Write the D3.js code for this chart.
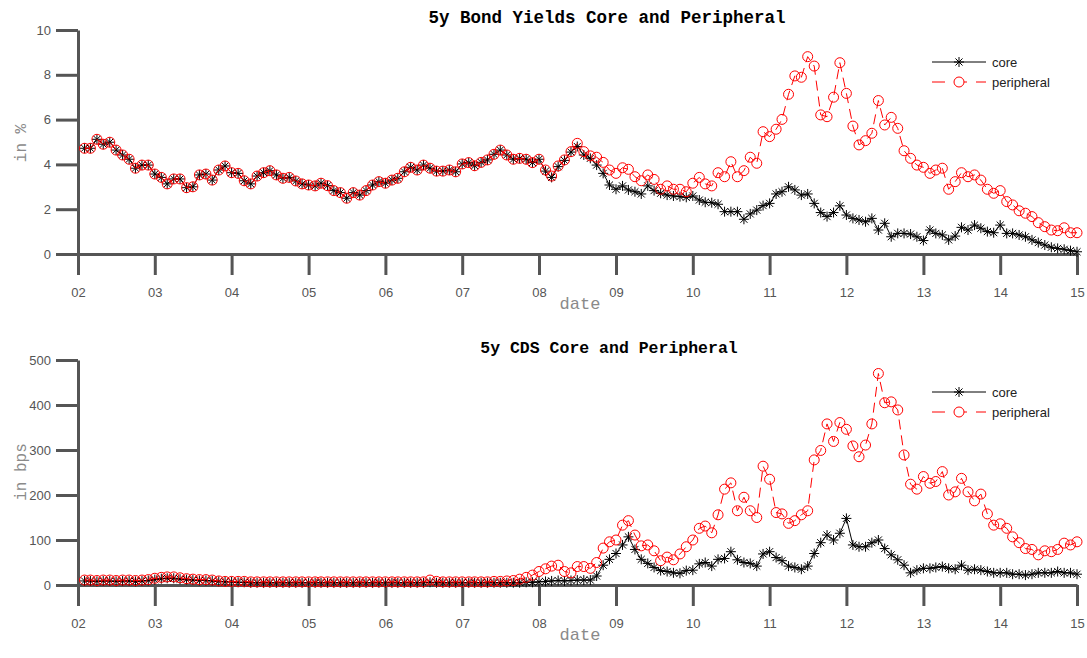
<!DOCTYPE html>
<html>
<head>
<meta charset="utf-8">
<script src="https://cdn.jsdelivr.net/npm/d3@7/dist/d3.min.js"></script>
<style>
  body { margin: 0; background: #fff; }
  svg { display: block; }
</style>
</head>
<body>
<svg id="chart" width="1087" height="658"></svg>
<script>
// Monthly observations, February 2002 through January 2015
const firstMonth = "2002-02-01";
const lastMonth = "2015-01-01";
const yearTicks = [2002, 2003, 2004, 2005, 2006, 2007, 2008, 2009, 2010, 2011, 2012, 2013, 2014, 2015];

// 5y government bond yields, in %
const bondCore = [
  4.72, 4.72, 5.12, 4.90, 4.99, 4.64, 4.42, 4.23, 3.83, 3.97,
  3.97, 3.57, 3.42, 3.13, 3.35, 3.35, 2.96, 3.00, 3.53, 3.57,
  3.30, 3.75, 3.93, 3.63, 3.60, 3.27, 3.13, 3.48, 3.63, 3.72,
  3.53, 3.38, 3.42, 3.26, 3.13, 3.08, 3.04, 3.16, 3.05, 2.83,
  2.74, 2.49, 2.74, 2.63, 2.83, 3.08, 3.23, 3.16, 3.30, 3.38,
  3.67, 3.87, 3.75, 3.97, 3.83, 3.70, 3.70, 3.75, 3.67, 4.02,
  4.08, 3.94, 4.09, 4.20, 4.45, 4.64, 4.42, 4.23, 4.27, 4.23,
  4.08, 4.23, 3.70, 3.42, 3.90, 4.18, 4.55, 4.80, 4.42, 4.27,
  3.97, 3.60, 3.08, 2.89, 3.04, 2.86, 2.78, 2.68, 3.04, 2.83,
  2.71, 2.63, 2.59, 2.56, 2.53, 2.59, 2.41, 2.31, 2.29, 2.22,
  1.89, 1.89, 1.89, 1.55, 1.79, 1.96, 2.16, 2.26, 2.68, 2.78,
  3.00, 2.86, 2.63, 2.68, 2.26, 1.85, 1.67, 1.85, 2.15, 1.74,
  1.59, 1.52, 1.44, 1.59, 1.07, 1.37, 0.77, 0.92, 0.92, 0.89,
  0.77, 0.60, 1.07, 0.92, 0.85, 0.63, 0.80, 1.19, 1.07, 1.29,
  1.15, 1.00, 0.95, 1.29, 0.92, 0.92, 0.85, 0.77, 0.63, 0.51,
  0.40, 0.30, 0.25, 0.21, 0.15, 0.10
];
const bondPeripheral = [
  4.72, 4.72, 5.12, 4.90, 4.99, 4.64, 4.42, 4.23, 3.83, 3.97,
  3.97, 3.57, 3.42, 3.13, 3.35, 3.35, 2.96, 3.00, 3.53, 3.57,
  3.30, 3.75, 3.93, 3.63, 3.60, 3.27, 3.13, 3.48, 3.63, 3.72,
  3.53, 3.38, 3.42, 3.26, 3.13, 3.08, 3.04, 3.16, 3.05, 2.83,
  2.74, 2.49, 2.74, 2.63, 2.83, 3.08, 3.23, 3.16, 3.30, 3.38,
  3.67, 3.87, 3.75, 3.97, 3.83, 3.70, 3.70, 3.75, 3.67, 4.02,
  4.08, 3.94, 4.09, 4.20, 4.45, 4.64, 4.42, 4.23, 4.27, 4.23,
  4.08, 4.23, 3.75, 3.48, 3.93, 4.20, 4.57, 4.94, 4.57, 4.38,
  4.32, 4.09, 3.75, 3.60, 3.85, 3.78, 3.45, 3.27, 3.53, 3.33,
  2.89, 3.04, 2.89, 2.89, 2.78, 3.16, 3.42, 3.13, 3.04, 3.63,
  3.45, 4.12, 3.45, 3.72, 4.32, 4.05, 5.46, 5.24, 5.57, 6.01,
  7.13, 7.95, 7.89, 8.81, 8.39, 6.21, 6.13, 7.00, 8.54, 7.17,
  5.71, 4.87, 5.06, 5.39, 6.85, 5.76, 6.10, 5.61, 4.61, 4.27,
  3.97, 3.87, 3.60, 3.75, 3.83, 2.89, 3.23, 3.63, 3.45, 3.53,
  3.30, 2.89, 2.71, 2.83, 2.34, 2.19, 1.93, 1.82, 1.67, 1.40,
  1.22, 1.07, 1.04, 1.17, 0.95, 0.95
];

// 5y sovereign CDS spreads, in basis points
const cdsCore = [
  9, 9, 8, 9, 9, 8, 9, 9, 8, 9,
  10, 12, 14, 15, 15, 13, 12, 11, 10, 10,
  9, 8, 7, 7, 6, 6, 5, 5, 5, 5,
  5, 5, 5, 5, 5, 5, 5, 5, 5, 5,
  5, 5, 5, 5, 5, 5, 5, 5, 5, 5,
  5, 5, 5, 5, 6, 5, 5, 5, 5, 5,
  5, 5, 5, 5, 5, 5, 5, 5, 5, 6,
  6, 7, 8, 9, 10, 9, 10, 11, 11, 11,
  20, 44, 57, 70, 89, 107, 79, 57, 48, 39,
  32, 30, 27, 26, 32, 33, 47, 50, 42, 57,
  59, 74, 56, 50, 48, 42, 69, 74, 61, 54,
  42, 39, 35, 42, 70, 94, 111, 100, 115, 148,
  89, 85, 85, 94, 100, 81, 67, 56, 44, 27,
  33, 37, 37, 39, 41, 37, 35, 44, 33, 35,
  33, 30, 27, 27, 27, 24, 24, 22, 24, 27,
  27, 27, 30, 27, 27, 24
];
const cdsPeripheral = [
  11, 11, 10, 11, 11, 10, 11, 11, 10, 11,
  12, 15, 17, 18, 18, 16, 14, 13, 12, 12,
  11, 9, 8, 8, 8, 8, 7, 7, 7, 7,
  7, 7, 7, 7, 7, 7, 7, 7, 7, 7,
  7, 7, 7, 7, 7, 7, 7, 7, 7, 7,
  7, 7, 7, 7, 11, 8, 7, 7, 7, 7,
  7, 7, 7, 7, 8, 8, 9, 10, 13, 17,
  22, 30, 36, 42, 44, 30, 27, 41, 41, 37,
  50, 82, 96, 100, 133, 143, 111, 87, 89, 76,
  54, 62, 56, 69, 85, 100, 126, 131, 116, 156,
  213, 227, 165, 195, 165, 150, 264, 235, 161, 158,
  137, 143, 156, 165, 278, 299, 358, 319, 361, 346,
  309, 285, 311, 358, 470, 405, 407, 389, 289, 224,
  213, 241, 226, 230, 252, 200, 207, 237, 207, 187,
  202, 158, 133, 136, 126, 107, 94, 81, 79, 67,
  76, 74, 79, 93, 89, 96
];

const seriesNames = ["core", "peripheral"];
const bondTicks = [0, 2, 4, 6, 8, 10];
const cdsTicks = [0, 100, 200, 300, 400, 500];

const months = d3.timeMonth.range(new Date(firstMonth + "T00:00"), d3.timeMonth.offset(new Date(lastMonth + "T00:00"), 1));

const svg = d3.select("#chart");
const axisGrey = "#555555";
const labelGrey = "#8a8a8a";
const monoFont = "'Liberation Mono', 'DejaVu Sans Mono', monospace";
const sansFont = "'Liberation Sans', Arial, Helvetica, sans-serif";

const x = d3.scaleTime()
  .domain([new Date(yearTicks[0], 0, 1), new Date(yearTicks[yearTicks.length - 1], 0, 1)])
  .range([78, 1077]);

// asterisk marker: horizontal, vertical and both diagonals
function starPath(r) {
  const d = r * Math.SQRT1_2;
  return `M${-r},0L${r},0M0,${-r}L0,${r}M${-d},${-d}L${d},${d}M${-d},${d}L${d},${-d}`;
}

const panels = [
  { title: "5y Bond Yields Core and Peripheral", titleSize: 17.5, titleX: 607, ylabel: "in %",
    core: bondCore, peripheral: bondPeripheral,
    domain: [0, 10], ticks: bondTicks, yRange: [254, 30], titleY: 23, legendY: 62, labelY: 143 },
  { title: "5y CDS Core and Peripheral", titleSize: 16.5, titleX: 609, ylabel: "in bps",
    core: cdsCore, peripheral: cdsPeripheral,
    domain: [0, 500], ticks: cdsTicks, yRange: [585, 360], titleY: 353, legendY: 392, labelY: 472 }
];

const xTickLen = 21;

panels.forEach(p => {
  const y = d3.scaleLinear().domain(p.domain).range(p.yRange);
  const g = svg.append("g");
  const bottom = p.yRange[0];

  // y axis
  const yAxis = g.append("g").attr("transform", "translate(78,0)")
    .call(d3.axisLeft(y).tickValues(p.ticks).tickSizeInner(22).tickSizeOuter(0).tickPadding(5));
  // x axis, long outward ticks labelled with two-digit years
  const xAxis = g.append("g").attr("transform", `translate(0,${bottom})`)
    .call(d3.axisBottom(x).tickValues(yearTicks.map(yr => new Date(yr, 0, 1)))
      .tickFormat(d3.timeFormat("%y")).tickSizeInner(xTickLen).tickSizeOuter(0).tickPadding(13));
  xAxis.selectAll(".tick line").attr("y2", xTickLen);
  xAxis.selectAll(".tick text").attr("y", xTickLen + 13).attr("dy", "0.71em");

  [yAxis, xAxis].forEach(a => {
    a.select(".domain").attr("stroke", axisGrey).attr("stroke-width", 3);
    a.selectAll(".tick line").attr("stroke", axisGrey).attr("stroke-width", 3);
    a.selectAll(".tick text").attr("fill", axisGrey).style("font-family", sansFont).style("font-size", "13px");
  });

  // axis labels
  g.append("text").attr("x", 580).attr("y", bottom + 55).attr("text-anchor", "middle")
    .attr("fill", labelGrey).style("font-family", monoFont).style("font-size", "17px").text("date");
  g.append("text").attr("transform", `translate(26,${p.labelY}) rotate(-90)`).attr("text-anchor", "middle")
    .attr("fill", labelGrey).style("font-family", monoFont).style("font-size", "16px").text(p.ylabel);

  // title
  g.append("text").attr("x", p.titleX).attr("y", p.titleY).attr("text-anchor", "middle")
    .attr("fill", "#000").style("font-family", monoFont).style("font-weight", "bold")
    .style("font-size", p.titleSize + "px").text(p.title);

  const line = vals => d3.line().x((v, i) => x(months[i])).y(v => y(v))(vals);

  // core: solid black with asterisks
  g.append("path").attr("d", line(p.core)).attr("fill", "none").attr("stroke", "#000").attr("stroke-width", 1);
  g.append("g").selectAll("path").data(p.core).join("path")
    .attr("transform", (v, i) => `translate(${x(months[i])},${y(v)})`)
    .attr("d", starPath(5)).attr("stroke", "#000").attr("stroke-width", 1).attr("fill", "none");

  // peripheral: dashed red with open circles
  g.append("path").attr("d", line(p.peripheral)).attr("fill", "none").attr("stroke", "#ff0000")
    .attr("stroke-width", 1).attr("stroke-dasharray", "10,6");
  g.append("g").selectAll("circle").data(p.peripheral).join("circle")
    .attr("cx", (v, i) => x(months[i])).attr("cy", v => y(v)).attr("r", 5)
    .attr("fill", "none").attr("stroke", "#ff0000").attr("stroke-width", 1);

  // legend
  const lg = g.append("g").attr("transform", `translate(932,${p.legendY})`);
  seriesNames.forEach((name, k) => {
    const row = lg.append("g").attr("transform", `translate(0,${k * 20})`);
    if (k === 0) {
      row.append("line").attr("x1", 0).attr("x2", 54).attr("stroke", "#000").attr("stroke-width", 1);
      row.append("path").attr("transform", "translate(27,0)").attr("d", starPath(5)).attr("stroke", "#000").attr("fill", "none");
    } else {
      row.append("line").attr("x1", 0).attr("x2", 54).attr("stroke", "#ff0000").attr("stroke-width", 1)
        .attr("stroke-dasharray", "13,9");
      row.append("circle").attr("cx", 27).attr("r", 5).attr("fill", "#fff").attr("stroke", "#ff0000");
    }
    row.append("text").attr("x", 60).attr("y", 0).attr("dy", "0.35em").attr("fill", "#222")
      .style("font-family", sansFont).style("font-size", "13px").text(name);
  });
});
</script>
</body>
</html>
